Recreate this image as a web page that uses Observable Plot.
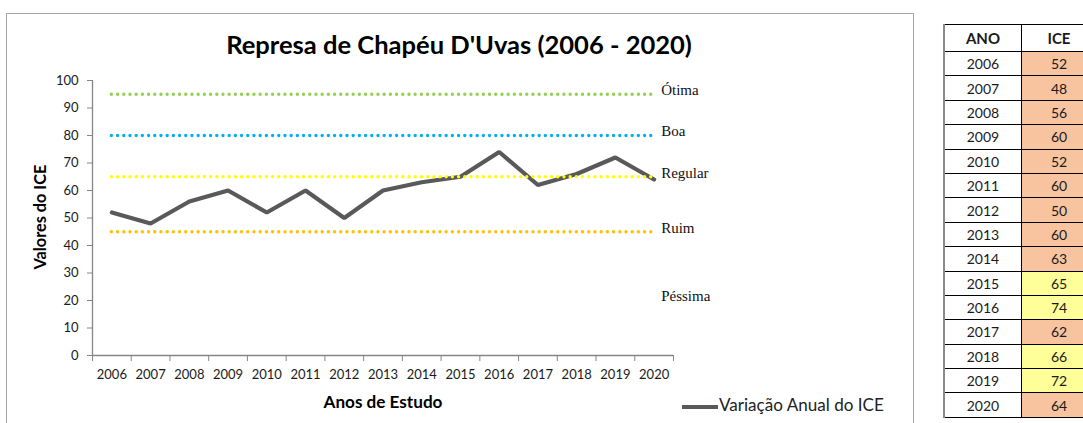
<!DOCTYPE html>
<html><head><meta charset="utf-8">
<script src="https://cdn.jsdelivr.net/npm/d3@7"></script>
<script src="https://cdn.jsdelivr.net/npm/@observablehq/plot@0.6"></script>
<style>
html,body{margin:0;padding:0;background:#fff;}
#root{position:relative;width:1083px;height:423px;overflow:hidden;font-family:Lato,"Open Sans",sans-serif;}
.abs{position:absolute;white-space:nowrap;line-height:1;}
.ctr{transform:translate(-50%,-50%);}
#box{position:absolute;left:6px;top:13px;width:906px;height:430px;border:1px solid #a6a6a6;}
#plotwrap{position:absolute;left:0;top:0;}
table{position:absolute;left:943px;top:24px;width:150px;table-layout:fixed;border-collapse:collapse;font-family:Lato,sans-serif;font-size:14px;color:#1a1a1a;}
td,th{border:1px solid #000;text-align:center;padding:0;}
th{height:26px;font-weight:bold;font-size:15px;}
td{height:23.4px;}
td.ano,th.ano{width:76px;border-left:2px solid #8a8a8a;}
td.ice,th.ice{width:74px;}
</style></head>
<body><div id="root">
<div id="box"></div>
<div id="plotwrap"></div>
<div id="title" class="abs ctr" style="font-weight:bold;color:#000;">Represa de Chapéu D'Uvas (2006 - 2020)</div>
<div id="ytitle" class="abs" style="font-weight:bold;color:#000;">Valores do ICE</div>
<div id="xtitle" class="abs ctr" style="font-weight:bold;color:#000;">Anos de Estudo</div>
<div id="legend" class="abs" style="color:#222;"><span id="legline" style="display:inline-block;width:36px;height:4px;background:#595959;vertical-align:middle;margin-right:1px;"></span><span id="legtext">Variação Anual do ICE</span></div>
</div>
<script>
// ---- data ----
const years = [2006,2007,2008,2009,2010,2011,2012,2013,2014,2015,2016,2017,2018,2019,2020];
const ice = [52,48,56,60,52,60,50,60,63,65,74,62,66,72,64];
const classLabels = ["Ótima","Boa","Regular","Ruim","Péssima"];
const classValues = [95,80,65,45,20];
const classColors = ["#92D050","#00B0F0","#FFFF00","#FFC000",null];
const yTicks = [0,10,20,30,40,50,60,70,80,90,100];
const seriesName = "Variação Anual do ICE";
const tableHeaders = ["ANO","ICE"];
const regularMin = 65;

const data = years.map((y,i)=>({year:y, ice:ice[i]}));
const classes = classLabels.map((l,i)=>({label:l, value:classValues[i], color:classColors[i]}));
const bounds = d3.range(years.length+1).map(i=>years[0]-0.5+i);

const chart = Plot.plot({
  width: 913, height: 423,
  marginLeft: 92, marginRight: 240, marginTop: 80, marginBottom: 68,
  x: {domain:[years[0]-0.5, years[years.length-1]+0.5]},
  y: {domain:[0,100]},
  color: {type:"identity"},
  style: {fontFamily:"Lato, sans-serif", fontSize:"13px", color:"#1a1a1a", background:"transparent", overflow:"visible"},
  marks: [
    Plot.axisY({ticks: yTicks, tickSize:5, tickPadding:9, label:null, stroke:"#868686", tickFormat:d=>String(d)}),
    Plot.axisX({ticks: bounds, tickSize:6, tickFormat:()=>"", label:null, stroke:"#868686"}),
    Plot.axisX({ticks: years, tickSize:0, tickPadding:14, tickFormat:d=>String(d), label:null}),
    Plot.ruleY([0], {stroke:"#868686", strokeWidth:1.3}),
    Plot.ruleX([bounds[0]], {stroke:"#868686", strokeWidth:1.3}),
    Plot.line(data, {x:"year", y:"ice", stroke:"#595959", strokeWidth:4.2, strokeLinejoin:"miter"}),
    Plot.ruleY(classes.filter(d=>d.color), {y:"value", x1:()=>years[0], x2:()=>years[years.length-1], stroke:"color", strokeWidth:3.4, strokeDasharray:"0 6.2", strokeLinecap:"round"}),
    Plot.text(classes, {x:()=>years[years.length-1], y:"value", text:"label", dx:7, dy:-4, textAnchor:"start", fontFamily:"Liberation Serif, serif", fontSize:15, fill:"#111"})
  ]
});
document.getElementById("plotwrap").appendChild(chart);

// table
const tbl = document.createElement("table");
const hr = tbl.insertRow();
tableHeaders.forEach((h,i)=>{const th=document.createElement("th"); th.textContent=h; th.className=i?"ice":"ano"; hr.appendChild(th);});
years.forEach((y,i)=>{
  const r = tbl.insertRow();
  const a = r.insertCell(); a.textContent=y; a.className="ano";
  const b = r.insertCell(); b.textContent=ice[i]; b.className="ice";
  b.style.background = ice[i] >= regularMin ? "#FFFF99" : "#F8C4A0";
});
document.getElementById("root").appendChild(tbl);

// fit text widths
function fit(el, target, base){
  el.style.fontSize = base+"px";
  const w = el.getBoundingClientRect().width;
  el.style.fontSize = (base*target/w)+"px";
}
const title = document.getElementById("title");
fit(title, 466, 24);
title.style.left="459px"; title.style.top="45px";
const xt = document.getElementById("xtitle");
fit(xt, 119, 15);
xt.style.left="383px"; xt.style.top="402px";
const yt = document.getElementById("ytitle");
fit(yt, 105, 15);
const yw = yt.getBoundingClientRect().width, yh = yt.getBoundingClientRect().height;
yt.style.left=(40-yw/2)+"px"; yt.style.top=(217-yh/2)+"px"; yt.style.transform="rotate(-90deg)";
const lt = document.getElementById("legtext");
fit(lt, 165, 16);
const lg = document.getElementById("legend");
lg.style.left="682px"; lg.style.top=(405-lg.getBoundingClientRect().height/2)+"px";
</script>
</body></html>
